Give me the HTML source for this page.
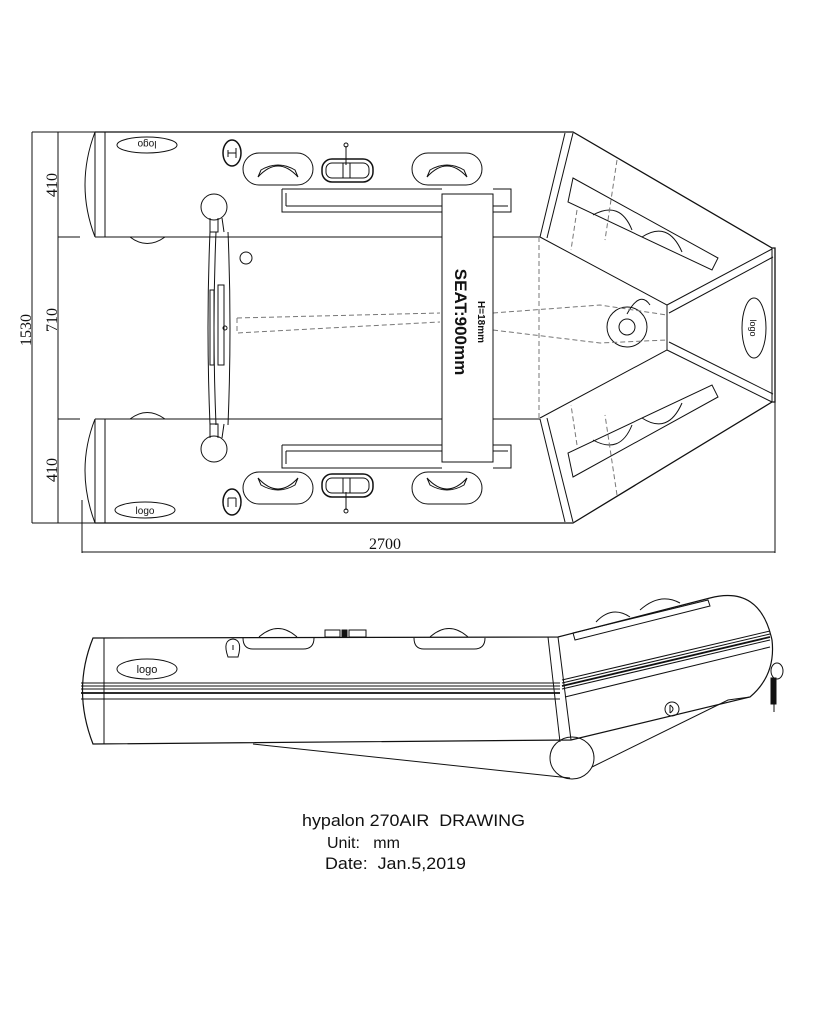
<!DOCTYPE html>
<html><head><meta charset="utf-8"><style>
html,body{margin:0;padding:0;background:#fff;}
svg{display:block;}
text{font-family:"Liberation Sans",Arial,sans-serif;white-space:pre;}
text.serif{font-family:"Liberation Serif",serif;}
</style></head><body>
<svg width="821" height="1024" viewBox="0 0 821 1024" xmlns="http://www.w3.org/2000/svg" fill="none" stroke="#111" stroke-width="1">
<!-- dimension lines -->
<line x1="32" y1="132" x2="95" y2="132"/>
<line x1="32" y1="523" x2="95" y2="523"/>
<line x1="32" y1="132" x2="32" y2="523"/>
<line x1="58" y1="132" x2="58" y2="523"/>
<line x1="58" y1="237" x2="80" y2="237"/>
<line x1="58" y1="419" x2="80" y2="419"/>
<line x1="82" y1="500" x2="82" y2="553"/>
<line x1="775" y1="402" x2="775" y2="553"/>
<line x1="82" y1="552" x2="775" y2="552"/>
<g fill="#111" stroke="none" font-size="16">
<text class="serif" transform="translate(57,185) rotate(-90)" text-anchor="middle">410</text>
<text class="serif" transform="translate(57,320) rotate(-90)" text-anchor="middle">710</text>
<text class="serif" transform="translate(31,330) rotate(-90)" text-anchor="middle">1530</text>
<text class="serif" transform="translate(57,470) rotate(-90)" text-anchor="middle">410</text>
<text class="serif" x="385" y="549" text-anchor="middle">2700</text>
</g>
<!-- top view hull -->
<path d="M95,132 L573,132 L772,248 L775,248 L775,402 L772,402 L573,523 L95,523" stroke-width="1.3"/>
<path d="M95,132 Q75,185 95,237"/>
<path d="M95,419 Q75,470 95,523"/>
<line x1="105" y1="132" x2="105" y2="237"/>
<line x1="105" y1="419" x2="105" y2="523"/>
<line x1="95" y1="132" x2="95" y2="237"/>
<line x1="95" y1="419" x2="95" y2="523"/>
<line x1="95" y1="237" x2="540" y2="237"/>
<line x1="95" y1="419" x2="540" y2="419"/>
<path d="M130,237 Q147,250 165,237"/>
<path d="M130,419 Q147,406 165,419"/>
<!-- seams at bow -->
<line x1="565" y1="133" x2="540" y2="237"/>
<line x1="573" y1="133" x2="547" y2="238"/>
<line x1="565" y1="522" x2="540" y2="419"/>
<line x1="573" y1="522" x2="547" y2="418"/>
<path d="M540,237 L667,305 L667,350 L540,418"/>
<line x1="667" y1="305" x2="772" y2="249"/>
<line x1="669" y1="313" x2="773" y2="257"/>
<line x1="667" y1="350" x2="772" y2="402"/>
<line x1="669" y1="342" x2="773" y2="394"/>
<line x1="772" y1="248" x2="772" y2="402"/>
<ellipse cx="754" cy="328" rx="12" ry="30"/>
<text transform="translate(750,328) rotate(90)" text-anchor="middle" font-size="9" fill="#111" stroke="none">logo</text>
<circle cx="627" cy="327" r="20"/>
<circle cx="627" cy="327" r="8"/>
<path d="M627,314 Q640,290 650,305" />
<!-- bow panels -->
<polygon points="573,178 718,258 712,270 568,202"/>
<polygon points="573,477 718,397 712,385 568,453"/>
<path d="M593,215 Q620,200 632,230 M642,237 Q668,220 682,252"/>
<path d="M593,440 Q620,455 632,425 M642,418 Q668,435 682,403"/>
<g stroke="#777" stroke-dasharray="5,3">
<line x1="617" y1="160" x2="605" y2="240"/>
<line x1="577" y1="210" x2="571" y2="250"/>
<line x1="617" y1="495" x2="605" y2="415"/>
<line x1="577" y1="445" x2="571" y2="405"/>
<line x1="539" y1="237" x2="539" y2="418"/>
<path d="M237,318 L237,333 L440,322"/>
<path d="M237,318 L440,313"/>
<path d="M493,313 L600,305 L667,315"/>
<path d="M493,330 L600,343 L667,340"/>
</g>
<!-- seat -->
<rect x="442" y="194" width="51" height="268" fill="#fff"/>
<text transform="translate(455,322) rotate(90)" text-anchor="middle" font-size="17" font-weight="bold" fill="#111" stroke="none">SEAT:900mm</text>
<text transform="translate(478,322) rotate(90)" text-anchor="middle" font-size="10" font-weight="bold" fill="#111" stroke="none">H=18mm</text>
<!-- rails -->
<path d="M282,189 L442,189 M282,189 L282,212 L442,212 M286,206 L442,206 M286,193 L286,206 M493,189 L511,189 L511,212 L493,212 M493,206 L508,206"/>
<path d="M282,445 L442,445 M282,445 L282,468 L442,468 M286,451 L442,451 M286,451 L286,464 M493,445 L511,445 L511,468 L493,468 M493,451 L508,451"/>
<!-- grab handles -->
<rect x="243" y="153" width="70" height="32" rx="16"/>
<path d="M258,177 Q278,155 298,177 L295,170 Q278,160 261,170 Z"/>
<rect x="412" y="153" width="70" height="32" rx="16"/>
<path d="M427,177 Q447,155 467,177 L464,170 Q447,160 430,170 Z"/>
<rect x="243" y="472" width="70" height="32" rx="16"/>
<path d="M258,478 Q278,500 298,478 L295,485 Q278,495 261,485 Z"/>
<rect x="412" y="472" width="70" height="32" rx="16"/>
<path d="M427,478 Q447,500 467,478 L464,485 Q447,495 430,485 Z"/>
<!-- oarlocks -->
<rect x="322" y="159" width="51" height="23" rx="10" stroke-width="1.5"/>
<rect x="326" y="163" width="43" height="15" rx="6"/>
<line x1="346" y1="146" x2="346" y2="165"/><circle cx="346" cy="145" r="2"/>
<rect x="343" y="163" width="7" height="15"/>
<rect x="322" y="474" width="51" height="23" rx="10" stroke-width="1.5"/>
<rect x="326" y="478" width="43" height="15" rx="6"/>
<line x1="346" y1="492" x2="346" y2="510"/><circle cx="346" cy="511" r="2"/>
<rect x="343" y="478" width="7" height="15"/>
<!-- valves -->
<ellipse cx="232" cy="153" rx="9" ry="13" stroke-width="1.5"/>
<path d="M228,150 L228,157 M228,153 L236,153 M236,148 L236,158"/>
<ellipse cx="232" cy="502" rx="9" ry="13" stroke-width="1.5"/>
<path d="M228,498 L236,498 M228,498 L228,507 M236,498 L236,507"/>
<!-- logos -->
<ellipse cx="147" cy="145" rx="30" ry="8"/>
<text transform="translate(147,145) rotate(180)" text-anchor="middle" dy="4" font-size="10" fill="#111" stroke="none">logo</text>
<ellipse cx="145" cy="510" rx="30" ry="8"/>
<text x="145" y="514" text-anchor="middle" font-size="10" fill="#111" stroke="none">logo</text>
<!-- transom bar -->
<circle cx="214" cy="207" r="13"/>
<circle cx="214" cy="449" r="13"/>
<path d="M210,218 L210,232 L218,232 L218,218 M222,218 L224,232"/>
<path d="M210,438 L210,424 L218,424 L218,438 M222,438 L224,424"/>
<path d="M210,232 Q206,327 210,425 M216,232 Q212,327 216,425 M228,232 Q232,327 228,425"/>
<rect x="210" y="290" width="4" height="75"/>
<rect x="218" y="285" width="6" height="80"/>
<circle cx="225" cy="328" r="2"/>
<circle cx="246" cy="258" r="6"/>
<!-- side view -->
<path d="M93,638 L558,637 L710,598 Q760,585 772,640 Q776,675 750,697 L571,740 L93,744 Q72,690 93,638 Z" stroke-width="1.2"/>
<line x1="104" y1="638" x2="104" y2="744"/>
<line x1="548" y1="637" x2="560" y2="742"/>
<line x1="558" y1="637" x2="571" y2="740"/>
<line x1="81" y1="683" x2="560" y2="683"/>
<line x1="81" y1="686" x2="560" y2="686"/>
<line x1="81" y1="689" x2="560" y2="689"/>
<line x1="81" y1="693" x2="560" y2="693" stroke-width="1.8"/>
<line x1="81" y1="699" x2="560" y2="699"/>
<line x1="562" y1="680" x2="770" y2="631"/>
<line x1="562" y1="683" x2="770" y2="634"/>
<line x1="562" y1="686" x2="770" y2="637" stroke-width="1.8"/>
<line x1="562" y1="689" x2="770" y2="640"/>
<line x1="565" y1="697" x2="770" y2="647"/>
<ellipse cx="147" cy="669" rx="30" ry="10"/>
<text x="147" y="673" text-anchor="middle" font-size="11" fill="#111" stroke="none">logo</text>
<path d="M228,657 Q222,640 233,639 Q243,640 238,657 Z M233,645 L233,650"/>
<path d="M243,638 Q243,649 253,649 L303,649 Q314,649 314,638"/>
<path d="M259,637 Q278,620 297,637"/>
<path d="M414,638 Q414,649 424,649 L474,649 Q485,649 485,638"/>
<path d="M430,637 Q449,620 468,637"/>
<rect x="325" y="630" width="15" height="7"/><rect x="342" y="630" width="5" height="7" fill="#111"/><rect x="349" y="630" width="17" height="7"/>
<path d="M573,633 L708,600 L710,606 L575,640 Z"/>
<path d="M596,622 Q612,605 630,617"/>
<path d="M640,610 Q660,592 680,603"/>
<path d="M253,744 L570,778"/>
<ellipse cx="572" cy="758" rx="22" ry="21"/>
<path d="M592,767 L728,700 L750,697"/>
<circle cx="672" cy="709" r="7"/>
<path d="M670,705 L670,713 M670,705 Q676,709 670,713"/>
<ellipse cx="777" cy="671" rx="6" ry="8"/>
<rect x="771" y="678" width="5" height="26" fill="#111"/>
<line x1="774" y1="704" x2="774" y2="712"/>
<!-- title -->
<g fill="#111" stroke="none" font-size="17">
<text x="302" y="826" textLength="223" lengthAdjust="spacingAndGlyphs">hypalon 270AIR  DRAWING</text>
<text x="327" y="848" font-size="16">Unit:   mm</text>
<text x="325" y="869" textLength="141" lengthAdjust="spacingAndGlyphs">Date:  Jan.5,2019</text>
</g>
</svg>
</body></html>
